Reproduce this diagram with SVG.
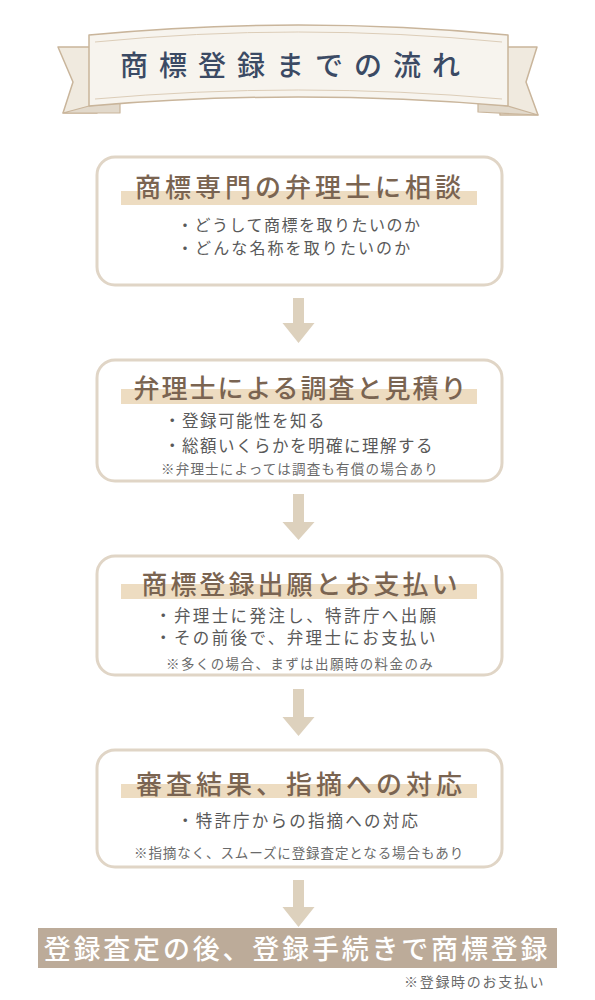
<svg xmlns="http://www.w3.org/2000/svg" width="595" height="1000" viewBox="0 0 595 1000">
<style>
  text { font-family: "Noto Sans CJK JP", "Noto Sans", sans-serif; }
  .box { fill: #ffffff; stroke: #e0d5c6; stroke-width: 3; }
  .bar { fill: #eddcc1; }
  .head { font-size: 26px; fill: #7a6451; font-weight: 500; }
  .bul { font-size: 16.5px; fill: #595959; }
  .bul1 { font-size: 16px; fill: #595959; }
  .note { font-size: 13.5px; fill: #6a6a6a; }
  .arrow { fill: #ddd1bd; }
  .rib { fill: #f7f4ee; stroke: #c9b59b; stroke-width: 1.5; stroke-linejoin: round; }
  .tail { fill: #f0eadf; stroke: #c9b59b; stroke-width: 1.5; stroke-linejoin: round; }
  .fold { fill: #e2d9cb; stroke: #c9b59b; stroke-width: 1.2; stroke-linejoin: round; }
  .inner { fill: none; stroke: #dccdb8; stroke-width: 1; }
</style>
<rect width="595" height="1000" fill="#ffffff"/>

<g id="title">
  <path class="tail" d="M58,47 L97,47 L97,113 L63,113 L73,82 Z"/>
  <path class="fold" d="M89,106 L120,103 L120,113 L63,113 Z"/>
  <path class="tail" d="M500,47 L537,47 L526,82 L538,115 L500,115 Z"/>
  <path class="fold" d="M508,106 L478,103 L478,112 L538,115 Z"/>
  <path class="rib" d="M89,35 Q298,15 508,35 L508,106 Q298,88 89,106 Z"/>
  <path class="inner" d="M95,42 Q298,22 502,42"/>
  <path class="inner" d="M95,99 Q298,81 502,99"/>
  <text x="120" y="76" font-size="28" font-weight="500" fill="#3b4a64" letter-spacing="11">商標登録までの流れ</text>
</g>

<g id="step1">
  <rect class="box" x="97" y="157" width="405" height="128" rx="18"/>
  <rect class="bar" x="121" y="191" width="356" height="14"/>
  <text class="head" x="300" y="197" text-anchor="middle" letter-spacing="4">商標専門の弁理士に相談</text>
  <text class="bul1" x="177" y="231" letter-spacing="1.5">・どうして商標を取りたいのか</text>
  <text class="bul1" x="177" y="254" letter-spacing="2.1">・どんな名称を取りたいのか</text>
</g>

<g id="step2">
  <rect class="box" x="97" y="360" width="405" height="121" rx="18"/>
  <rect class="bar" x="121" y="389" width="356" height="15"/>
  <text class="head" x="301" y="398" text-anchor="middle" letter-spacing="2">弁理士による調査と見積り</text>
  <text class="bul" x="164" y="427" letter-spacing="1.5">・登録可能性を知る</text>
  <text class="bul" x="164" y="452" letter-spacing="1.5">・総額いくらかを明確に理解する</text>
  <text class="note" x="161" y="474" letter-spacing="1.2">※弁理士によっては調査も有償の場合あり</text>
</g>

<g id="step3">
  <rect class="box" x="97" y="556" width="405" height="119" rx="18"/>
  <rect class="bar" x="121" y="584" width="356" height="15"/>
  <text class="head" x="301" y="594" text-anchor="middle" letter-spacing="3">商標登録出願とお支払い</text>
  <text class="bul" x="155" y="622" letter-spacing="2.4">・弁理士に発注し、特許庁へ出願</text>
  <text class="bul" x="155" y="644" letter-spacing="2.4">・その前後で、弁理士にお支払い</text>
  <text class="note" x="166" y="669" letter-spacing="1.4">※多くの場合、まずは出願時の料金のみ</text>
</g>

<g id="step4">
  <rect class="box" x="97" y="750" width="405" height="117" rx="18"/>
  <rect class="bar" x="121" y="784" width="356" height="14"/>
  <text class="head" x="301" y="794" text-anchor="middle" letter-spacing="4">審査結果、指摘への対応</text>
  <text class="bul" x="177" y="827" letter-spacing="2.2">・特許庁からの指摘への対応</text>
  <text class="note" x="134" y="858" letter-spacing="0.9">※指摘なく、スムーズに登録査定となる場合もあり</text>
</g>

<g id="final">
  <rect x="38" y="928" width="519" height="40" fill="#bcab99"/>
  <text x="297" y="959" text-anchor="middle" font-size="27" font-weight="500" fill="#ffffff" letter-spacing="2.8">登録査定の後、登録手続きで商標登録</text>
  <text x="404" y="987" font-size="14" fill="#6a6a6a" letter-spacing="1.7">※登録時のお支払い</text>
</g>

<g id="connectors">
  <path class="arrow" d="M293,298 H304 V323 H314.5 L298.5,343 L282.5,323 H293 Z"/>
  <path class="arrow" d="M293,494 H304 V522 H314.5 L298.5,540 L282.5,522 H293 Z"/>
  <path class="arrow" d="M293,689 H304 V717 H314.5 L298.5,736 L282.5,717 H293 Z"/>
  <path class="arrow" d="M293,880 H304 V907 H314.5 L298.5,927 L282.5,907 H293 Z"/>
</g>
</svg>
